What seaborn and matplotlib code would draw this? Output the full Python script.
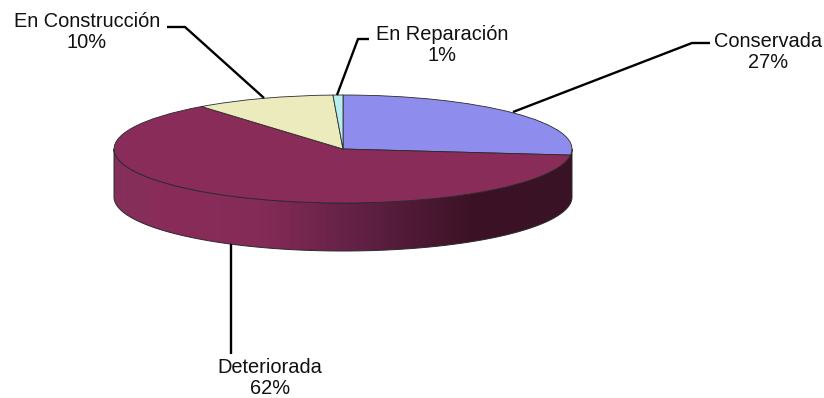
import numpy as np
import matplotlib
matplotlib.use("Agg")
import matplotlib.pyplot as plt
from matplotlib.colors import LinearSegmentedColormap
from matplotlib.patches import Polygon
import seaborn as sns

categories = ["Conservada", "Deteriorada", "En Construcción", "En Reparación"]
values = [26.8, 62.6, 9.9, 0.7]
pct_labels = ["27%", "62%", "10%", "1%"]
slice_colors = ["#8e8ced", "#8a2c5a", "#ecebbd", "#b9eeee"]

W, H = 824, 398
CX, CY, RX, RY, DEPTH = 343, 149, 229, 54, 48

sns.set_theme(style="white")
plt.rcParams["font.family"] = ["Liberation Sans", "DejaVu Sans"]

fig = plt.figure(figsize=(W / 100, H / 100), dpi=100, facecolor="white")
ax = fig.add_axes([0, 0, 1, 1])


def px(x, y):
    return (x - CX) / RX, (CY - y) / RY


# side wall with horizontal shading
t = np.linspace(np.pi, 2 * np.pi, 300)
ex, ey = np.cos(t), np.sin(t)
d = DEPTH / RY
verts = np.r_[np.c_[ex, ey - d], np.c_[ex[::-1], ey[::-1]]]
wall = Polygon(verts, closed=True, facecolor="none", edgecolor="#2a2a2a", lw=0.7, zorder=1)
ax.add_patch(wall)
cmap = LinearSegmentedColormap.from_list(
    "wall",
    [(0, "#84305a"), (0.10, "#8a2c5a"), (0.32, "#852b58"), (0.55, "#5f2043"),
     (0.78, "#3c1226"), (1, "#3a1225")],
)
img = ax.imshow(np.linspace(0, 1, 256)[None, :], cmap=cmap, aspect="auto",
                extent=(-1, 1, -1 - d, 1), zorder=0.9)
img.set_clip_path(wall)

wedges, _ = ax.pie(values, colors=slice_colors, startangle=90, counterclock=False,
                   radius=1, center=(0, 0),
                   wedgeprops={"edgecolor": "#2a2a2a", "linewidth": 0.6, "zorder": 2})

# pie() forces equal aspect: release it so the disc is drawn as a tilted ellipse
ax.set_aspect("auto")
ax.set_xlim(px(0, 0)[0], px(W, 0)[0])
ax.set_ylim(px(0, H)[1], px(0, 0)[1])
ax.axis("off")

leaders = {
    "Conservada": [(710, 43), (692, 43), (513, 112)],
    "Deteriorada": [(231, 354), (231, 244)],
    "En Construcción": [(167, 27), (185, 27), (264, 98)],
    "En Reparación": [(369, 39), (358, 39), (337, 95)],
}
text_pos = {
    "Conservada": (768, 52),
    "Deteriorada": (270, 378),
    "En Construcción": (87, 32),
    "En Reparación": (442, 45),
}
for name, pct in zip(categories, pct_labels):
    pts = np.array([px(*p) for p in leaders[name]])
    ax.plot(pts[:, 0], pts[:, 1], color="black", lw=1.7, zorder=3, solid_capstyle="butt")
    tx, ty = px(*text_pos[name])
    ax.text(tx, ty, f"{name}\n{pct}", ha="center", va="center", fontsize=14.4,
            color="#111111", linespacing=1.12, zorder=4)

fig.savefig("out.png", dpi=100, facecolor="white")
